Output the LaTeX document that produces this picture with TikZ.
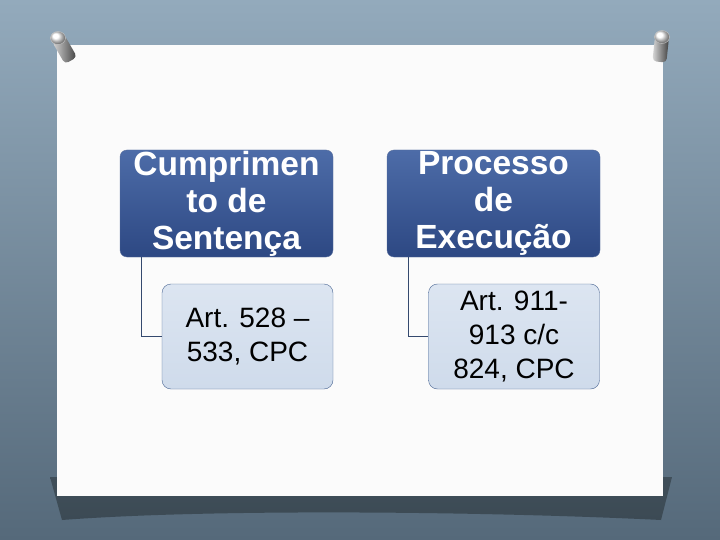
\documentclass[tikz,border=0pt]{standalone}
\usepackage{fontspec}
\setmainfont{Liberation Sans}
\usepackage{xcolor}
\usepackage{tikz}
\usetikzlibrary{positioning,calc,shapes.geometric}
\definecolor{boardtop}{HTML}{93AABC}
\definecolor{boardbot}{HTML}{55697A}
\definecolor{shadowdk}{HTML}{3C4A54}
\definecolor{navytop}{HTML}{4D6CA8}
\definecolor{navybot}{HTML}{2D4883}
\definecolor{paletop}{HTML}{DCE5F1}
\definecolor{palebot}{HTML}{CFDBEB}
\definecolor{paleedge}{HTML}{4A6693}
\definecolor{linkline}{HTML}{34496E}
\tikzset{
  headbox/.style={
    rectangle, rounded corners=7pt, draw=navybot!80!white, thin,
    top color=navytop, bottom color=navybot,
    minimum width=213pt, minimum height=107pt,
    text=white, font=\bfseries\fontsize{33.5}{37}\selectfont,
    align=center, inner sep=0pt
  },
  itembox/.style={
    rectangle, rounded corners=9pt, draw=paleedge, thin,
    top color=paletop, bottom color=palebot,
    minimum width=171pt, minimum height=105pt,
    text=black, font=\fontsize{28}{34}\selectfont,
    align=center, inner sep=0pt
  },
  linkline/.style={draw=linkline, line width=1pt},
  pinbody/.style={left color=gray!30, right color=black!75},
  pinhead/.style={ball color=white, draw=gray!40, thin},
}

\begin{document}
\begin{tikzpicture}[x=1pt, y=-1pt]
  \useasboundingbox (0,0) rectangle (720,540);

  % board and paper
  \shade[top color=boardtop, bottom color=boardbot] (0,0) rectangle (720,540);
  \shade[top color=shadowdk!85!boardbot, bottom color=shadowdk]
    (50,477) -- (672,477) -- (661,520)
    .. controls (500,512) and (220,508) .. (62,520) -- cycle;
  \fill[white!97!gray] (57,45) rectangle (663,496);

  % pins
  \shade[pinbody, rounded corners=4pt, rotate around={30:(58,38)}]
    (51,38) rectangle (65,64);
  \shade[pinhead] (58,38) ellipse (7.5 and 6.5);
  \shade[pinbody, rounded corners=4pt, rotate around={-6:(662,37)}]
    (655,37) rectangle (669,62);
  \shade[pinhead] (662,37) ellipse (7.5 and 6.5);

  % boxes
  \node[headbox] (cumpr) at (226.5,203.5) {Cumprimen\\to de\\Sentença};
  \node[headbox] (exec) at (493.5,203.5) {Processo\\de\\Execução};
  \node[itembox] (art1) at (247.5,336.5) {Art. 528 --\\533, CPC};
  \node[itembox] (art2) at (514,336.5) {Art. 911-\\913 c/c\\824, CPC};

  \draw[linkline] ([xshift=22pt]cumpr.south west) |- (art1.west);
  \draw[linkline] ([xshift=22pt]exec.south west) |- (art2.west);
\end{tikzpicture}
\end{document}
